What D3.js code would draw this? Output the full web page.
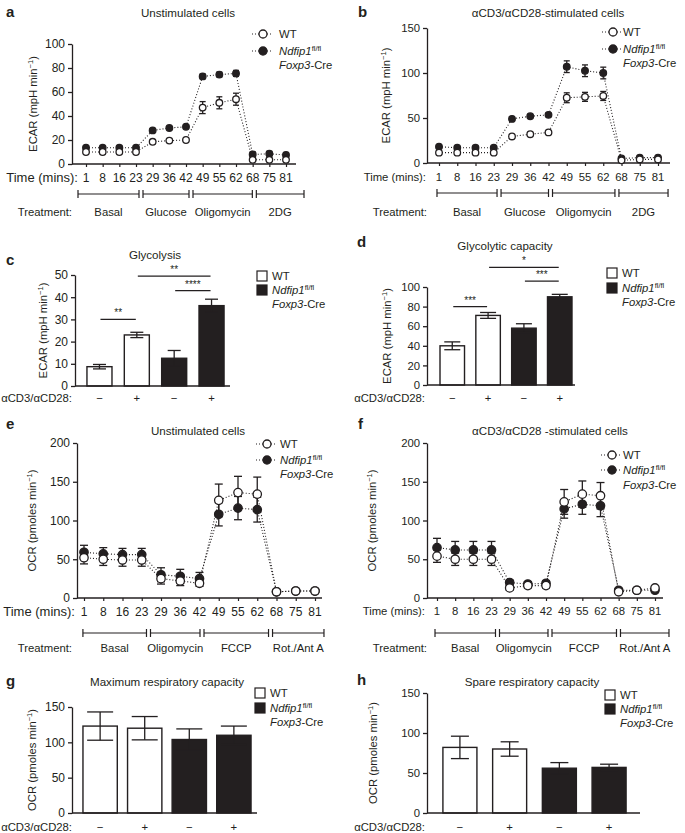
<!DOCTYPE html>
<html>
<head>
<meta charset="utf-8">
<script src="https://cdn.jsdelivr.net/npm/d3@7"></script>
<style>
  body { margin: 0; background: #fff; }
  svg { font-family: "Liberation Sans", Arial, Helvetica, sans-serif; font-size: 11.3px; }
  text { fill: #231f20; }
</style>
</head>
<body>
<svg id="fig" width="685" height="833"></svg>
<script>
// time points of the Seahorse runs
var times = [1, 8, 16, 23, 29, 36, 42, 49, 55, 62, 68, 75, 81];
var ecarTreat = ["Basal", "Glucose", "Oligomycin", "2DG"];
var ocrTreat = ["Basal", "Oligomycin", "FCCP", "Rot./Ant A"];

// a: ECAR, unstimulated
var aWT    = [10, 10, 10, 10, 18.5, 19.5, 20, 47, 51, 54, 3.5, 3.5, 3.5];
var aWTErr = [1.5, 1.5, 1.5, 1.5, 1.5, 1.5, 1.5, 5, 5, 5, 1, 1, 1];
var aKO    = [13.5, 13.5, 13.5, 13.5, 28, 30, 31, 73, 74.5, 75.5, 8, 8.5, 7.5];
var aKOErr = [1.5, 1.5, 1.5, 1.5, 1.5, 1, 1, 2, 2, 2.5, 2, 2, 2];

// b: ECAR, stimulated
var bWT    = [11.5, 11.5, 11.5, 11.5, 29.5, 32, 34, 72.5, 73.5, 74.5, 3, 4, 4];
var bWTErr = [2, 2, 2, 2, 2, 2, 2, 5.5, 5, 5, 1.5, 1.5, 1.5];
var bKO    = [18, 17, 17, 17, 49, 52, 53.5, 107, 102.5, 100, 5, 6, 6];
var bKOErr = [1.5, 1.5, 1.5, 1.5, 2, 2, 2, 6.5, 6.5, 6.5, 1.5, 1.5, 1.5];

// e: OCR, unstimulated
var eWT    = [52, 50, 49, 49, 25, 22, 19, 126, 136, 134, 8, 9, 9];
var eWTErr = [8, 8, 8, 8, 7, 6, 4, 21, 21, 22, 1, 1, 1];
var eKO    = [59, 57, 56, 56, 30, 28, 25, 108, 116, 114, 8, 9, 9];
var eKOErr = [9, 8, 8, 8, 9, 9, 8, 15, 15, 16, 1, 1, 1];

// f: OCR, stimulated
var fWT    = [54, 50, 50, 50, 13, 16, 16, 124, 134, 132, 8, 10, 13];
var fWTErr = [8, 8, 8, 8, 3, 3, 3, 16, 17, 17, 1, 1, 1];
var fKO    = [65, 62, 62, 62, 20, 18, 19, 115, 121, 119, 10, 10, 10];
var fKOErr = [12, 11, 11, 11, 3, 3, 3, 12, 13, 14, 1, 1, 1];

// bar panels: WT-, WT+, KO-, KO+
var groups = ["WT-", "WT+", "KO-", "KO+"];
var stim = ["\u2212", "+", "\u2212", "+"];
var cVals = [8.7, 23, 12.5, 36.2], cErr = [1, 1.2, 3.5, 2.9];
var dVals = [40, 71, 58, 90],      dErr = [4, 3, 4.5, 2.5];
var gVals = [123, 120, 104, 110],  gErr = [20, 16.5, 15, 13];
var hVals = [82, 80, 56, 57],      hErr = [14, 9, 7, 4];

// significance: [from bar, to bar, height, stars]
var cSig = [[0, 1, 30, "**"], [1, 3, 49.5, "**"], [2, 3, 43, "****"]];
var dSig = [[0, 1, 80, "***"], [1, 3, 120, "*"], [2, 3, 106, "***"]];

var ink = "#231f20";
var svg = d3.select("#fig");

function koLegend(g, x, y1, y2) {
  var t = g.append("text").attr("x", x).attr("y", y1);
  t.append("tspan").attr("font-style", "italic").text("Ndfip1");
  t.append("tspan").attr("font-size", 7.5).attr("dy", -4.5).text("fl/fl");
  var t2 = g.append("text").attr("x", x).attr("y", y2);
  t2.append("tspan").attr("font-style", "italic").text("Foxp3");
  t2.append("tspan").text("-Cre");
}

function yTitle(g, x, yc, main) {
  var t = g.append("text")
    .attr("transform", "translate(" + x + "," + yc + ") rotate(-90)")
    .attr("text-anchor", "middle");
  t.append("tspan").text(main + " min");
  t.append("tspan").attr("font-size", 7.5).attr("dy", -4.5).text("\u22121");
  t.append("tspan").attr("dy", 4.5).text(")");
}

function yAxis(g, y, p) {
  var ax = g.append("g").attr("transform", "translate(" + p.ax + ",0)")
    .call(d3.axisLeft(y).tickValues(d3.range(0, p.yMax + 1, p.yStep)).tickSize(4).tickSizeOuter(0).tickPadding(3));
  ax.attr("font-family", null).attr("font-size", p.fs || null);
  ax.selectAll("line,path").attr("stroke", ink).attr("stroke-width", 1.3);
  ax.selectAll("text").attr("fill", ink);
}

function heading(g, p) {
  g.append("text").attr("x", p.lx).attr("y", p.ly).attr("font-weight", "bold").attr("font-size", 15).text(p.letter);
  g.append("text").attr("x", p.tx).attr("y", p.ty).attr("text-anchor", "middle").attr("font-size", 11.6).text(p.title);
}

function lineChart(p) {
  var g = svg.append("g");
  var x = d3.scalePoint().domain(times).range([p.p0, p.p1]);
  var y = d3.scaleLinear().domain([0, p.yMax]).range([p.yBot, p.yTop]);
  var step = x.step();
  heading(g, p);
  yAxis(g, y, p);
  var xa = g.append("g").attr("transform", "translate(0," + p.yBot + ")")
    .call(d3.axisBottom(x).tickSize(3).tickFormat(""));
  xa.select(".domain").remove();
  xa.selectAll("line").attr("stroke", ink).attr("stroke-width", 1.2);
  g.append("line").attr("x1", p.ax).attr("x2", p.axEnd).attr("y1", p.yBot).attr("y2", p.yBot)
    .attr("stroke", ink).attr("stroke-width", 1.3);
  yTitle(g, p.yl, (p.yTop + p.yBot) / 2, p.yName);

  // time row
  g.append("text").attr("x", p.timeX).attr("y", p.timeY).attr("text-anchor", "end")
    .attr("font-size", p.tfs).text("Time (mins):");
  g.selectAll(".tm").data(times).enter().append("text")
    .attr("x", function(d) { return x(d); })
    .attr("y", p.timeY).attr("text-anchor", "middle").attr("font-size", p.fs).text(function(d) { return d; });

  // treatment spans, edges given in time-point index units
  var sx = function(f) { return p.p0 + f * step; };
  p.treat.forEach(function(name, i) {
    var x1 = sx(p.seg[i]) + 2, x2 = sx(p.seg[i + 1]) - 2;
    g.append("line").attr("x1", x1).attr("x2", x2).attr("y1", p.segY).attr("y2", p.segY)
      .attr("stroke", ink).attr("stroke-width", 1.2);
    [x1, x2].forEach(function(xx) {
      g.append("line").attr("x1", xx).attr("x2", xx).attr("y1", p.segY - 4).attr("y2", p.segY + 4)
        .attr("stroke", ink).attr("stroke-width", 1.2);
    });
    g.append("text").attr("x", (x1 + x2) / 2).attr("y", p.treatY).attr("text-anchor", "middle").text(name);
  });
  g.append("text").attr("x", p.treatX).attr("y", p.treatY).attr("text-anchor", "end").text("Treatment:");

  var line = d3.line().x(function(d, i) { return x(times[i]); }).y(function(d) { return y(d); });
  var series = [
    { v: p.ko, e: p.koErr, fill: ink },
    { v: p.wt, e: p.wtErr, fill: "#fff" }
  ];
  series.forEach(function(s) {
    g.append("path").datum(s.v).attr("d", line).attr("fill", "none")
      .attr("stroke", ink).attr("stroke-width", 1.1).attr("stroke-dasharray", "1,2");
  });
  series.forEach(function(s) {
    var eg = g.append("g").attr("stroke", ink).attr("stroke-width", 1.3);
    s.v.forEach(function(v, i) {
      var cx = x(times[i]), lo = y(v - s.e[i]), hi = y(v + s.e[i]);
      eg.append("line").attr("x1", cx).attr("x2", cx).attr("y1", lo).attr("y2", hi);
      eg.append("line").attr("x1", cx - p.cap).attr("x2", cx + p.cap).attr("y1", lo).attr("y2", lo);
      eg.append("line").attr("x1", cx - p.cap).attr("x2", cx + p.cap).attr("y1", hi).attr("y2", hi);
    });
  });
  series.forEach(function(s) {
    g.selectAll(null).data(s.v).enter().append("circle")
      .attr("cx", function(d, i) { return x(times[i]); })
      .attr("cy", function(d) { return y(d); })
      .attr("r", p.r).attr("fill", s.fill).attr("stroke", ink).attr("stroke-width", 1.3);
  });

  // legend
  [[p.legY1, "#fff"], [p.legY2, ink]].forEach(function(l) {
    g.append("line").attr("x1", p.legX - 11).attr("x2", p.legX + 8).attr("y1", l[0]).attr("y2", l[0])
      .attr("stroke", ink).attr("stroke-width", 1.1).attr("stroke-dasharray", "1,2");
    g.append("circle").attr("cx", p.legX).attr("cy", l[0]).attr("r", 4)
      .attr("fill", l[1]).attr("stroke", ink).attr("stroke-width", 1.3);
  });
  g.append("text").attr("x", p.legTX).attr("y", p.legY1 + 4).text("WT");
  koLegend(g, p.legTX, p.legY2 + 4, p.legY3 + 4);
}

function barChart(p) {
  var g = svg.append("g");
  var x = d3.scaleBand().domain(groups).range([p.r0, p.r1]).paddingInner(p.pi).paddingOuter(p.po);
  var y = d3.scaleLinear().domain([0, p.yMax]).range([p.yBot, p.yTop]);
  heading(g, p);
  yAxis(g, y, p);
  yTitle(g, p.yl, (p.yTop + p.yBot) / 2, p.yName);

  g.selectAll(null).data(p.vals).enter().append("rect")
    .attr("x", function(d, i) { return x(groups[i]); })
    .attr("y", function(d) { return y(d); })
    .attr("width", x.bandwidth())
    .attr("height", function(d) { return p.yBot - y(d); })
    .attr("fill", function(d, i) { return i < 2 ? "#fff" : ink; })
    .attr("stroke", ink).attr("stroke-width", 1.4);

  var eg = g.append("g").attr("stroke", ink).attr("stroke-width", 1.3);
  p.vals.forEach(function(v, i) {
    var cx = x(groups[i]) + x.bandwidth() / 2, lo = y(v - p.err[i]), hi = y(v + p.err[i]);
    eg.append("line").attr("x1", cx).attr("x2", cx).attr("y1", lo).attr("y2", hi);
    eg.append("line").attr("x1", cx - p.cap).attr("x2", cx + p.cap).attr("y1", lo).attr("y2", lo);
    eg.append("line").attr("x1", cx - p.cap).attr("x2", cx + p.cap).attr("y1", hi).attr("y2", hi);
  });

  g.append("line").attr("x1", p.ax).attr("x2", p.axEnd).attr("y1", p.yBot).attr("y2", p.yBot)
    .attr("stroke", ink).attr("stroke-width", 1.3);

  g.append("text").attr("x", p.stimX).attr("y", p.stimY).attr("text-anchor", "end").text("\u03b1CD3/\u03b1CD28:");
  stim.forEach(function(s, i) {
    g.append("text").attr("x", x(groups[i]) + x.bandwidth() / 2).attr("y", p.stimY)
      .attr("text-anchor", "middle").text(s);
  });

  (p.sig || []).forEach(function(s) {
    var x1 = x(groups[s[0]]) + x.bandwidth() / 2 + 1, x2 = x(groups[s[1]]) + x.bandwidth() / 2 - 1;
    g.append("line").attr("x1", x1).attr("x2", x2).attr("y1", y(s[2])).attr("y2", y(s[2]))
      .attr("stroke", ink).attr("stroke-width", 1.2);
    g.append("text").attr("x", (x1 + x2) / 2).attr("y", y(s[2]) - 3).attr("text-anchor", "middle")
      .attr("font-size", 10).text(s[3]);
  });

  // legend
  g.append("rect").attr("x", p.legX).attr("y", p.legY1 - 5).attr("width", 10).attr("height", 10)
    .attr("fill", "#fff").attr("stroke", ink).attr("stroke-width", 1.2);
  g.append("rect").attr("x", p.legX).attr("y", p.legY2 - 5).attr("width", 10).attr("height", 10)
    .attr("fill", ink).attr("stroke", ink).attr("stroke-width", 1.2);
  g.append("text").attr("x", p.legX + 15).attr("y", p.legY1 + 4).text("WT");
  koLegend(g, p.legX + 15, p.legY2 + 4, p.legY3 + 4);
}

lineChart({
  letter: "a", lx: 6, ly: 17, title: "Unstimulated cells", tx: 188, ty: 17,
  ax: 72, axEnd: 296, p0: 86, p1: 286, yTop: 44, yBot: 164, yMax: 100, yStep: 20,
  yl: 37, yName: "ECAR (mpH", timeX: 78, timeY: 182, segY: 194, treatY: 216, treatX: 72,
  fs: 12, tfs: 13, seg: [-0.6, 3.3, 6.3, 10.1, 13.2],
  treat: ecarTreat, wt: aWT, wtErr: aWTErr, ko: aKO, koErr: aKOErr, r: 3.3, cap: 3,
  legX: 263, legTX: 279, legY1: 34, legY2: 51, legY3: 65
});
lineChart({
  letter: "b", lx: 358, ly: 17, title: "\u03b1CD3/\u03b1CD28-stimulated cells", tx: 548, ty: 17,
  ax: 427, axEnd: 670, p0: 439, p1: 658, yTop: 28, yBot: 163, yMax: 150, yStep: 50,
  yl: 390, yName: "ECAR (mpH", timeX: 426, timeY: 181, segY: 193, treatY: 216, treatX: 427,
  fs: 11.3, tfs: 11.3, seg: [-0.22, 3.29, 6.11, 9.75, 12.66],
  treat: ecarTreat, wt: bWT, wtErr: bWTErr, ko: bKO, koErr: bKOErr, r: 3.3, cap: 3,
  legX: 613, legTX: 623, legY1: 32, legY2: 49, legY3: 63
});
lineChart({
  letter: "e", lx: 6, ly: 429, title: "Unstimulated cells", tx: 198, ty: 435,
  ax: 77, axEnd: 322, p0: 84, p1: 315, yTop: 443, yBot: 598, yMax: 200, yStep: 50,
  yl: 36, yName: "OCR (pmoles", timeX: 75, timeY: 616, segY: 633, treatY: 652, treatX: 72,
  fs: 12, tfs: 13, seg: [-0.16, 3.35, 6.13, 9.69, 12.57],
  treat: ocrTreat, wt: eWT, wtErr: eWTErr, ko: eKO, koErr: eKOErr, r: 4.2, cap: 4,
  legX: 267, legTX: 280, legY1: 444, legY2: 460, legY3: 474
});
lineChart({
  letter: "f", lx: 358, ly: 429, title: "\u03b1CD3/\u03b1CD28 -stimulated cells", tx: 550, ty: 435,
  ax: 427, axEnd: 663, p0: 437, p1: 655, yTop: 443, yBot: 598, yMax: 200, yStep: 50,
  yl: 376, yName: "OCR (pmoles", timeX: 425, timeY: 615, segY: 633, treatY: 652, treatX: 427,
  fs: 11.3, tfs: 11.3, seg: [-0.22, 3.33, 6.22, 9.99, 12.88],
  treat: ocrTreat, wt: fWT, wtErr: fWTErr, ko: fKO, koErr: fKOErr, r: 4.2, cap: 4,
  legX: 612, legTX: 623, legY1: 455, legY2: 470, legY3: 485
});

barChart({
  letter: "c", lx: 6, ly: 265, title: "Glycolysis", tx: 155, ty: 259,
  ax: 75, axEnd: 230, r0: 75, r1: 236, pi: 0.33, po: 0.32, fs: 12,
  yTop: 275, yBot: 386, yMax: 50, yStep: 10, yl: 47, yName: "ECAR (mpH",
  vals: cVals, err: cErr, cap: 6.5, sig: cSig, stimX: 72, stimY: 402,
  legX: 257, legY1: 276, legY2: 290, legY3: 304
});
barChart({
  letter: "d", lx: 357, ly: 247, title: "Glycolytic capacity", tx: 505, ty: 250,
  ax: 427, axEnd: 575, r0: 427, r1: 585, pi: 0.316, po: 0.363, fs: 11.3,
  yTop: 287, yBot: 385, yMax: 100, yStep: 20, yl: 391, yName: "ECAR (mpH",
  vals: dVals, err: dErr, cap: 8, sig: dSig, stimX: 425, stimY: 402,
  legX: 607, legY1: 273, legY2: 288, legY3: 302
});
barChart({
  letter: "g", lx: 6, ly: 686, title: "Maximum respiratory capacity", tx: 167, ty: 686,
  ax: 72, axEnd: 257, r0: 72, r1: 262, pi: 0.23, po: 0.246, fs: 12,
  yTop: 707, yBot: 813, yMax: 150, yStep: 50, yl: 36, yName: "OCR (pmoles",
  vals: gVals, err: gErr, cap: 13, stimX: 72, stimY: 831,
  legX: 255, legY1: 693, legY2: 708, legY3: 722
});
barChart({
  letter: "h", lx: 357, ly: 685, title: "Spare respiratory capacity", tx: 532, ty: 686,
  ax: 427, axEnd: 640, r0: 427, r1: 642, pi: 0.316, po: 0.32, fs: 11.3,
  yTop: 693, yBot: 813, yMax: 150, yStep: 50, yl: 377, yName: "OCR (pmoles",
  vals: hVals, err: hErr, cap: 9, stimX: 425, stimY: 831,
  legX: 605, legY1: 695, legY2: 709, legY3: 723
});
</script>
</body>
</html>
